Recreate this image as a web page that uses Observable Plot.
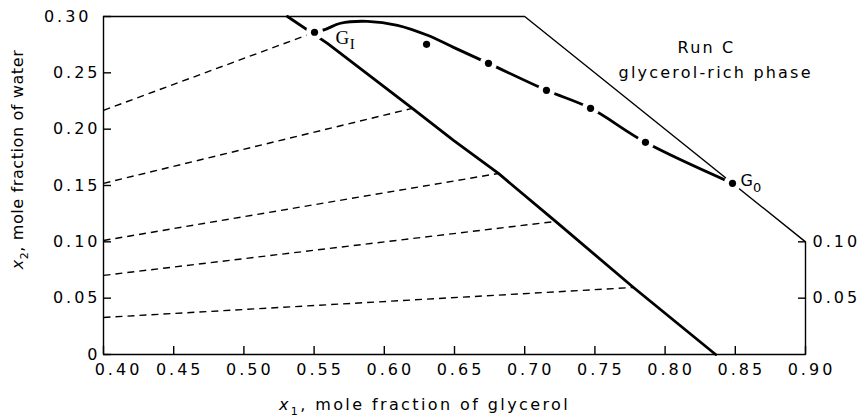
<!DOCTYPE html>
<html><head><meta charset="utf-8">
<script src="https://cdn.jsdelivr.net/npm/d3@7"></script>
<script src="https://cdn.jsdelivr.net/npm/@observablehq/plot@0.6"></script>
<style>html,body{margin:0;padding:0;background:#fff;}</style>
</head><body><div id="chart"></div>
<script>
// ticks
const xTicks = [0.40, 0.45, 0.50, 0.55, 0.60, 0.65, 0.70, 0.75, 0.80, 0.85, 0.90];
const yTicks = [0, 0.05, 0.10, 0.15, 0.20, 0.25, 0.30];
const rightTicks = [0.05, 0.10];

// frame of the composition region (x1 + x2 <= 1)
const frameX = [0.40, 0.40, 0.90, 0.90, 0.70, 0.40];
const frameY = [0.30, 0.00, 0.00, 0.10, 0.30, 0.30];

// thick solid line (lower phase boundary)
const lineX = [0.531, 0.5595, 0.620, 0.6493, 0.6813, 0.722, 0.7775, 0.836];
const lineY = [0.300, 0.2762, 0.2185, 0.190, 0.1607, 0.1181, 0.0595, 0.000];

// dashed tie lines
const tieX0 = [0.40, 0.40, 0.40, 0.40, 0.40];
const tieY0 = [0.2167, 0.1519, 0.1012, 0.0702, 0.0329];
const tieX1 = [0.5503, 0.620, 0.6813, 0.722, 0.7775];
const tieY1 = [0.286, 0.2185, 0.1607, 0.1181, 0.0595];

// glycerol-rich phase path G_I -> G_0
const curveX = [0.5503, 0.5581, 0.5688, 0.5880, 0.6094, 0.6308, 0.6493, 0.6742, 0.7155, 0.7469, 0.7860, 0.8480];
const curveY = [0.2860, 0.2886, 0.2940, 0.2957, 0.2922, 0.2833, 0.2726, 0.2584, 0.2345, 0.2185, 0.1883, 0.1519];

// measured points on the path
const dotX = [0.5503, 0.6742, 0.7155, 0.7469, 0.7860, 0.8480];
const dotY = [0.2860, 0.2584, 0.2345, 0.2185, 0.1883, 0.1519];
// point off the path
const offX = [0.6301];
const offY = [0.2753];

// annotations
const noteX = [0.8295, 0.836];
const noteY = [0.2718, 0.2496];
const noteText = ["Run C", "glycerol-rich phase"];
const gIX = [0.5503], gIY = [0.2860];
const g0X = [0.8480], g0Y = [0.1519];
const xTitle = "x1, mole fraction of glycerol";
const yTitle = "x2, mole fraction of water";

const idx = a => a.map((_, i) => i);
const fmt = d => d === 0 ? "0" : d.toFixed(2);
const blank = () => "";

const svg = Plot.plot({
  width: 859, height: 419,
  marginTop: 16, marginRight: 54, marginBottom: 65, marginLeft: 103,
  style: {fontFamily: "DejaVu Sans", fontSize: "16px", color: "#000", background: "#fff"},
  x: {domain: [0.40, 0.90]},
  y: {domain: [0, 0.30]},
  marks: [
    Plot.link(idx(tieX0), {x1: i => tieX0[i], y1: i => tieY0[i], x2: i => tieX1[i], y2: i => tieY1[i],
      stroke: "#000", strokeWidth: 1.4, strokeDasharray: "7,5"}),
    Plot.line(idx(lineX), {x: i => lineX[i], y: i => lineY[i], stroke: "#000", strokeWidth: 2.8}),
    Plot.line(idx(curveX), {x: i => curveX[i], y: i => curveY[i], stroke: "#000", strokeWidth: 2.8, curve: "catmull-rom"}),
    Plot.line(idx(frameX), {x: i => frameX[i], y: i => frameY[i], stroke: "#000", strokeWidth: 1.4}),
    Plot.dot(idx(dotX), {x: i => dotX[i], y: i => dotY[i], r: 3.6, fill: "#000", stroke: "#fff", strokeWidth: 10, paintOrder: "stroke"}),
    Plot.dot(idx(offX), {x: i => offX[i], y: i => offY[i], r: 3.6, fill: "#000"}),
    // inward ticks
    Plot.axisX({ticks: xTicks, tickSize: 8, dy: -8, tickFormat: blank, label: null, strokeWidth: 1.4}),
    Plot.axisY({ticks: yTicks, tickSize: 8, dx: 8, tickFormat: blank, label: null, strokeWidth: 1.4}),
    Plot.axisY({anchor: "right", ticks: rightTicks, tickSize: 8, dx: -8, tickFormat: blank, label: null, strokeWidth: 1.4}),
    // tick labels
    Plot.axisX({ticks: xTicks.slice(1), tickSize: 0, tickPadding: 9, dx: 6, tickFormat: fmt, label: null, fontSize: 16}),
    Plot.axisX({ticks: xTicks.slice(0, 1), tickSize: 0, tickPadding: 9, dx: 15, tickFormat: fmt, label: null, fontSize: 16}),
    Plot.axisY({ticks: yTicks.slice(0, -1), tickSize: 0, tickPadding: 3, tickFormat: fmt, label: null, fontSize: 16}),
    Plot.axisY({ticks: yTicks.slice(-1), tickSize: 0, tickPadding: 12, tickFormat: fmt, label: null, fontSize: 16}),
    Plot.axisY({anchor: "right", ticks: rightTicks, tickSize: 0, tickPadding: 7, tickFormat: fmt, label: null, fontSize: 16}),
    // axis titles
    Plot.text([xTitle], {frameAnchor: "bottom", dx: -30, dy: 50, textAnchor: "middle", lineAnchor: "middle", fontSize: 16}),
    Plot.text([yTitle], {frameAnchor: "left", dx: -86, dy: -26, rotate: -90, textAnchor: "middle", lineAnchor: "middle", fontSize: 16}),
    // annotations
    Plot.text(idx(noteX), {x: i => noteX[i], y: i => noteY[i], text: i => noteText[i], fontSize: 16, lineAnchor: "middle"}),
    Plot.text(idx(gIX), {x: i => gIX[i], y: i => gIY[i], text: () => "GI", dx: 21, dy: 6, textAnchor: "start", lineAnchor: "middle", fontFamily: "Liberation Serif", fontSize: 19}),
    Plot.text(idx(g0X), {x: i => g0X[i], y: i => g0Y[i], text: () => "G0", dx: 8, dy: -2, textAnchor: "start", lineAnchor: "middle", fontSize: 16})
  ]
});

document.getElementById("chart").appendChild(svg);
const s = d3.select(svg);
const byText = str => s.selectAll("text").filter(function() { return this.textContent === str; });
s.selectAll('g[aria-label="x-axis tick label"] text, g[aria-label="y-axis tick label"] text').style("letter-spacing", "3px");
noteText.forEach(t => byText(t).style("letter-spacing", "2.2px"));

function subscriptText(sel, main, sub, subSize, italicMain, rest, ls, shift) {
  sel.each(function() {
    const t = d3.select(this);
    t.text(null).style("letter-spacing", ls);
    t.append("tspan").text(main).style("font-style", italicMain ? "italic" : null);
    t.append("tspan").text(sub).attr("font-size", subSize).attr("dy", shift);
    if (rest) t.append("tspan").text(rest).attr("dy", -shift);
  });
}
subscriptText(byText(xTitle), "x", "1", 11, true, xTitle.slice(2), "2.4px", 5);
subscriptText(byText(yTitle), "x", "2", 11, true, yTitle.slice(2), "0.6px", 5);
subscriptText(byText("GI"), "G", "I", 15, false, null, "0.5px", 5);
subscriptText(byText("G0"), "G", "0", 13, false, null, "0px", 6);
</script>
</body></html>
